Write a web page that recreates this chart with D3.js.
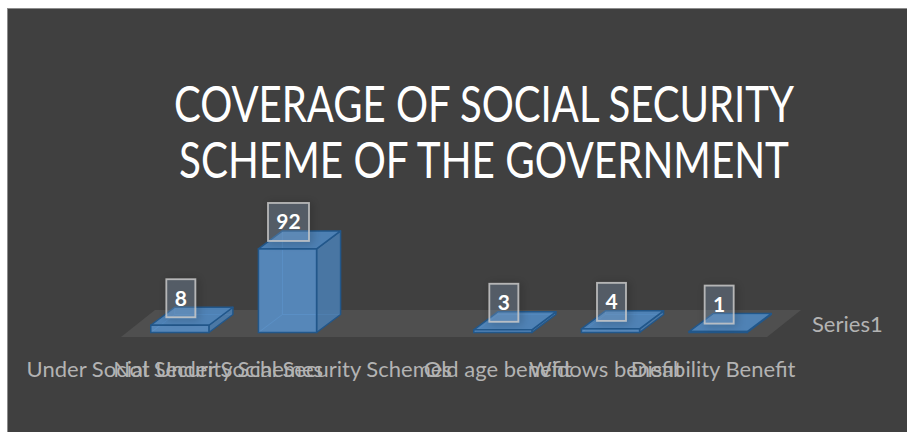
<!DOCTYPE html>
<html>
<head>
<meta charset="utf-8">
<script src="https://cdn.jsdelivr.net/npm/d3@7"></script>
<style>
  html, body { margin: 0; padding: 0; background: #ffffff; }
  svg { display: block; }
</style>
</head>
<body>
<div id="chart"></div>
<script>
// ---- data ----
const categories = [
  "Under Social Security Schemes",
  "Not Under Social Security Schemes",
  "",
  "Old age benefit",
  "Widows benefit",
  "Disability Benefit"
];
const values = [8, 92, null, 3, 4, 1];
const seriesName = "Series1";
const titleLines = ["COVERAGE OF SOCIAL SECURITY", "SCHEME OF THE GOVERNMENT"];
const valueDomain = [0, 100];

// ---- layout ----
const W = 907, H = 432;
const svg = d3.select("#chart").append("svg").attr("width", W).attr("height", H);

const defs = svg.append("defs");
const f = defs.append("filter").attr("id", "lblShadow")
  .attr("x", "-60%").attr("y", "-60%").attr("width", "220%").attr("height", "220%");
f.append("feDropShadow").attr("dx", 2).attr("dy", 1).attr("stdDeviation", 4)
  .attr("flood-color", "#000").attr("flood-opacity", 0.45);

// background
svg.append("rect").attr("x", 7.5).attr("y", 8.5).attr("width", W).attr("height", H)
  .attr("fill", "#404040").attr("stroke", "#8c8c8c").attr("stroke-width", 1);

// title
const title = svg.append("g").attr("fill", "#ffffff")
  .style("font-family", "Lato, 'Open Sans', sans-serif").style("font-size", "50px");
const titleWidths = [620, 610];
titleLines.forEach((t, i) => {
  title.append("text").attr("x", 484).attr("y", 122 + i * 56)
    .attr("text-anchor", "middle")
    .attr("textLength", titleWidths[i]).attr("lengthAdjust", "spacingAndGlyphs")
    .text(t);
});

// scales
const x = d3.scaleBand().domain(categories).range([121, 767])
  .paddingInner(0.46).paddingOuter(0.23);
const h = d3.scaleLinear().domain(valueDomain).range([0, 90.8]);

const floorFrontY = 337, floorDX = 34, floorDY = -27;
const barDX = 24, barDY = -18;
const barShiftX = (floorDX - barDX) / 2, barShiftY = (floorDY - barDY) / 2;
const baseY = floorFrontY + barShiftY;

// floor
const [fx0, fx1] = x.range();
svg.append("path")
  .attr("d", d3.line()([[fx0, floorFrontY], [fx1, floorFrontY],
    [fx1 + floorDX, floorFrontY + floorDY], [fx0 + floorDX, floorFrontY + floorDY]]) + "Z")
  .attr("fill", "#4f4f4f");

// bars
const bw = x.bandwidth();
const bars = categories.map((c, i) => ({ c, v: values[i] })).filter(d => d.v != null);
const gb = svg.append("g");
bars.forEach(d => {
  const x0 = x(d.c) + barShiftX, x1 = x0 + bw;
  const yb = baseY, yt = baseY - h(d.v);
  const g = gb.append("g");
  g.append("path")
    .attr("d", `M${x0 + barDX},${yb + barDY}V${yt + barDY}M${x0 + barDX},${yb + barDY}H${x1 + barDX}M${x0 + barDX},${yb + barDY}L${x0},${yb}`)
    .attr("stroke", "#7aa8d8").attr("stroke-width", 1).attr("fill", "none").attr("opacity", 0.7);
  g.append("path")
    .attr("d", d3.line()([[x1, yb], [x1 + barDX, yb + barDY], [x1 + barDX, yt + barDY], [x1, yt]]) + "Z")
    .attr("fill", "#4a7cae").attr("fill-opacity", 0.9)
    .attr("stroke", "#22578a").attr("stroke-width", 1.5).attr("stroke-linejoin", "round");
  g.append("path")
    .attr("d", d3.line()([[x0, yt], [x1, yt], [x1 + barDX, yt + barDY], [x0 + barDX, yt + barDY]]) + "Z")
    .attr("fill", "#4f87c0").attr("fill-opacity", 0.9)
    .attr("stroke", "#22578a").attr("stroke-width", 1.5).attr("stroke-linejoin", "round");
  g.append("rect").attr("x", x0).attr("y", yt).attr("width", bw).attr("height", yb - yt)
    .attr("fill", "#5890c8").attr("fill-opacity", 0.88)
    .attr("stroke", "#22578a").attr("stroke-width", 1.5);
});

// data labels
const gl = svg.append("g");
bars.forEach(d => {
  const x0 = x(d.c) + barShiftX;
  const yt = baseY - h(d.v);
  const cx = x0 + bw / 2 + 1;
  const top = yt - 46;
  const g = gl.append("g");
  const t = g.append("text").attr("x", cx).attr("y", top + 26.5)
    .attr("text-anchor", "middle").attr("fill", "#ffffff")
    .style("font-family", "Lato, 'Open Sans', sans-serif").style("font-size", "21px")
    .style("font-weight", "bold").text(d.v);
  const tw = t.node().getComputedTextLength();
  const bwid = Math.round(tw + 17);
  g.insert("rect", "text").attr("x", cx - bwid / 2).attr("y", top)
    .attr("width", bwid).attr("height", 38)
    .attr("fill", "rgba(150,180,220,0.22)")
    .attr("stroke", "#c8c8c8").attr("stroke-opacity", 0.85).attr("stroke-width", 1.8)
    .attr("filter", "url(#lblShadow)");
});

// category axis
const axis = svg.append("g").attr("transform", "translate(0,377)")
  .call(d3.axisBottom(x).tickSize(0).tickPadding(0));
axis.select(".domain").remove();
axis.selectAll("text").attr("y", 0).attr("dy", null)
  .attr("fill", "#b3b3b3")
  .style("font-family", "Lato, 'Open Sans', sans-serif").style("font-size", "22px");

// legend
svg.append("text").attr("x", 812).attr("y", 332)
  .attr("fill", "#b3b3b3")
  .style("font-family", "Lato, 'Open Sans', sans-serif").style("font-size", "22px")
  .text(seriesName);
</script>
</body>
</html>
